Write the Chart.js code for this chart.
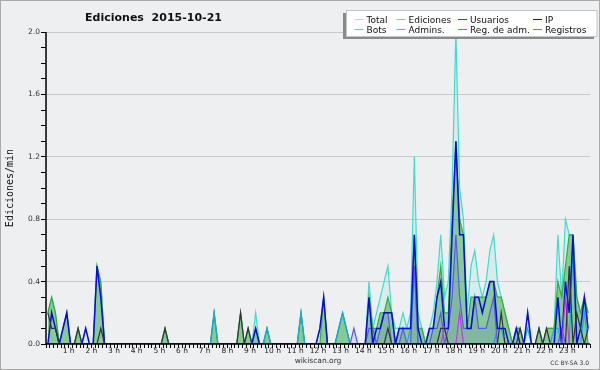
<!DOCTYPE html>
<html>
<head>
<meta charset="utf-8">
<script src="https://cdn.jsdelivr.net/npm/chart.js@4.4.1/dist/chart.umd.min.js"></script>
<style>
html,body{margin:0;padding:0;background:#eeeff1;}
canvas{display:block;}
</style>
</head>
<body>
<canvas id="c" width="600" height="370"></canvas>
<script>
// ---------- data (10-minute bins, edits per minute) ----------
const chartTitle = 'Ediciones  2015-10-21';
const yAxisTitle = 'Ediciones/min';
const xAxisTitle = 'wikiscan.org';
const licenseText = 'CC BY-SA 3.0';
const binMinutes = 10;
const hourTickLabels = ['1 h','2 h','3 h','4 h','5 h','6 h','7 h','8 h','9 h','10 h','11 h','12 h',
  '13 h','14 h','15 h','16 h','17 h','18 h','19 h','20 h','21 h','22 h','23 h'];
const yTickLabels = ['0.0','0.4','0.8','1.2','1.6','2.0'];
const seriesNames = ['Total','Ediciones','Usuarios','IP','Bots','Admins.','Reg. de adm.','Registros'];

const total = [
  0.2,0.3,0.2,0,0.1,0.2,0,0,0.1,0,0.1,0,
  0,0.5,0.4,0,0,0,0,0,0,0,0,0,
  0,0,0,0,0,0,0,0.1,0,0,0,0,
  0,0,0,0,0,0,0,0,0.2,0,0,0,
  0,0,0,0.2,0,0.1,0,0.2,0,0,0.1,0,
  0,0,0,0,0,0,0,0.2,0,0,0,0,
  0.1,0.3,0,0,0,0.1,0.2,0.1,0,0,0,0,
  0,0.4,0.1,0.2,0.3,0.4,0.5,0.2,0.1,0.1,0.2,0.1,
  0.2,1.2,0.2,0.1,0,0.1,0.2,0.4,0.7,0.3,0.4,1.0,
  2.0,1.0,0.8,0.2,0.5,0.6,0.4,0.3,0.4,0.6,0.7,0.4,
  0.3,0.2,0.1,0,0.1,0.1,0,0.2,0,0,0.1,0,
  0.1,0.1,0.1,0.7,0.3,0.8,0.7,0.7,0.3,0.2,0.3,0.2
];
const ediciones = [
  0.2,0.3,0.2,0,0.1,0.2,0,0,0.1,0,0,0,
  0,0.5,0.4,0,0,0,0,0,0,0,0,0,
  0,0,0,0,0,0,0,0.1,0,0,0,0,
  0,0,0,0,0,0,0,0,0.2,0,0,0,
  0,0,0,0.2,0,0.1,0,0.1,0,0,0.1,0,
  0,0,0,0,0,0,0,0.2,0,0,0,0,
  0,0.3,0,0,0,0.1,0.2,0.1,0,0,0,0,
  0,0.3,0.1,0.1,0.2,0.2,0.3,0.2,0,0.1,0.1,0.1,
  0.1,0.7,0.1,0.1,0,0.1,0.1,0.3,0.5,0.2,0.2,0.8,
  1.3,0.8,0.7,0.1,0.3,0.3,0.3,0.3,0.3,0.4,0.4,0.3,
  0.3,0.2,0.1,0,0.1,0.1,0,0,0,0,0.1,0,
  0.1,0.1,0.1,0.4,0.3,0.5,0.7,0.7,0.3,0.2,0.3,0.2
];
const usuarios = [
  0,0.2,0.1,0,0.1,0.2,0,0,0,0,0.1,0,
  0,0.5,0.3,0,0,0,0,0,0,0,0,0,
  0,0,0,0,0,0,0,0,0,0,0,0,
  0,0,0,0,0,0,0,0,0,0,0,0,
  0,0,0,0,0,0,0,0.1,0,0,0,0,
  0,0,0,0,0,0,0,0,0,0,0,0,
  0.1,0.3,0,0,0,0,0,0,0,0,0,0,
  0,0.3,0,0.1,0.1,0.2,0.2,0.2,0,0.1,0.1,0.1,
  0.1,0.7,0.1,0,0,0.1,0.1,0.3,0.4,0.1,0.1,0.7,
  1.3,0.7,0.7,0.1,0.1,0.3,0.3,0.2,0.3,0.4,0.4,0.1,
  0.1,0.1,0,0,0.1,0,0,0.2,0,0,0,0,
  0,0,0,0.3,0,0.4,0.2,0.7,0,0.1,0.3,0.1
];
const ip = [
  0.2,0.1,0.1,0,0,0,0,0,0.1,0,0,0,
  0,0,0.1,0,0,0,0,0,0,0,0,0,
  0,0,0,0,0,0,0,0.1,0,0,0,0,
  0,0,0,0,0,0,0,0,0,0,0,0,
  0,0,0,0.2,0,0.1,0,0,0,0,0,0,
  0,0,0,0,0,0,0,0,0,0,0,0,
  0,0,0,0,0,0,0,0,0,0,0,0,
  0,0,0,0,0,0,0.1,0,0,0,0,0,
  0,0,0,0,0,0,0,0,0.1,0.1,0,0,
  0,0,0,0,0,0,0,0,0,0,0,0,
  0.2,0,0,0,0,0.1,0,0,0,0,0.1,0,
  0.1,0,0,0,0,0,0.5,0,0.2,0.1,0,0.1
];
const bots = [
  0,0,0,0,0,0,0,0,0,0,0,0, 0,0,0,0,0,0,0,0,0,0,0,0,
  0,0,0,0,0,0,0,0,0,0,0,0, 0,0,0,0,0,0,0,0,0,0,0,0,
  0,0,0,0,0,0,0,0,0,0,0,0, 0,0,0,0,0,0,0,0,0,0,0,0,
  0,0,0,0,0,0,0,0,0,0,0,0, 0,0,0,0,0,0,0,0,0,0,0,0,
  0,0,0,0,0,0,0,0,0,0,0,0, 0,0,0,0,0,0,0,0,0,0,0,0,
  0,0,0,0,0,0,0,0,0,0,0,0, 0,0,0,0,0,0,0,0,0,0,0,0
];
const admins = [
  0,0,0,0,0,0,0,0,0,0,0,0,
  0,0,0,0,0,0,0,0,0,0,0,0,
  0,0,0,0,0,0,0,0,0,0,0,0,
  0,0,0,0,0,0,0,0,0.2,0,0,0,
  0,0,0,0,0,0,0,0,0,0,0.1,0,
  0,0,0,0,0,0,0,0.2,0,0,0,0,
  0,0,0,0,0,0.1,0.2,0.1,0,0,0,0,
  0,0,0,0,0,0,0,0,0,0,0,0,
  0.1,0.5,0,0,0,0,0,0,0,0,0,0,
  0,0,0,0,0,0,0,0,0,0,0,0.1,
  0.1,0,0,0,0,0,0,0.1,0,0,0,0,
  0,0,0.1,0.1,0,0,0,0.6,0,0,0.2,0
];
const regAdm = [
  0,0,0,0,0,0,0,0,0,0,0,0, 0,0,0,0,0,0,0,0,0,0,0,0,
  0,0,0,0,0,0,0,0,0,0,0,0, 0,0,0,0,0,0,0,0,0,0,0,0,
  0,0,0,0,0,0,0,0,0,0,0,0, 0,0,0,0,0,0,0,0,0,0,0,0,
  0,0,0,0,0,0,0,0,0,0,0,0, 0,0,0,0,0,0,0,0,0,0,0,0,
  0,0,0,0,0,0,0,0,0,0.1,0,0, 0,0.2,0,0,0,0,0,0,0,0,0,0,
  0,0,0,0,0,0,0,0,0,0,0,0, 0,0,0,0,0,0.3,0,0,0,0,0,0
];
const registros = [
  0,0,0,0,0,0,0,0,0,0,0,0,
  0,0,0,0,0,0,0,0,0,0,0,0,
  0,0,0,0,0,0,0,0,0,0,0,0,
  0,0,0,0,0,0,0,0,0,0,0,0,
  0,0,0,0,0,0,0,0,0,0,0,0,
  0,0,0,0,0,0,0,0,0,0,0,0,
  0,0,0,0,0,0,0,0,0,0.1,0,0,
  0,0.1,0.1,0,0.1,0.2,0.2,0,0,0,0.1,0,
  0,0.5,0,0,0,0,0.1,0.1,0.2,0,0.1,0.3,
  0.7,0.3,0.1,0.1,0.1,0.3,0.1,0.1,0.1,0.2,0.3,0,
  0,0,0,0,0,0,0,0,0,0,0,0,
  0,0,0,0,0.1,0,0,0,0,0,0,0
];

// bin centres in minutes since 00:00 (x categories)
const binCenters = total.map((_, i) => i * binMinutes + binMinutes / 2);

// ---------- styles ----------
const FONT = "'DejaVu Sans', Verdana, sans-serif";
const lineColors = ['#3fdcd0','#35ad35','#0a0ae0','#333333','#ff9a30','#14a8e4','#cc33e6','#5858ee'];
const legendColors = ['#9fe6dd','#86cf86','#3a3ae6','#222222','#f0a040','#38c4e4','#d040e0','#7070f0'];

function ds(name, data, idx, extra) {
  return Object.assign({
    label: name, data: data, borderColor: lineColors[idx], borderWidth: 1.2,
    pointRadius: 0, tension: 0, fill: false
  }, extra || {});
}

const datasets = [
  ds(seriesNames[0], total, 0, {fill: 'origin', backgroundColor: 'rgba(64,224,208,0.13)', order: 10}),
  ds(seriesNames[1], ediciones, 1, {fill: 'origin', backgroundColor: 'rgba(40,160,40,0.45)', order: 9}),
  ds(seriesNames[4], bots, 4, {order: 8}),
  ds(seriesNames[5], admins, 5, {order: 6}),
  ds(seriesNames[7], registros, 7, {fill: 'origin', backgroundColor: 'rgba(70,70,235,0.13)', order: 5}),
  ds(seriesNames[2], usuarios, 2, {borderWidth: 1.5, order: 4}),
  ds(seriesNames[6], regAdm, 6, {order: 3}),
  ds(seriesNames[3], ip, 3, {order: 2})
];

const decor = {
  id: 'decor',
  beforeDraw(chart) {
    const c = chart.ctx;
    c.save();
    c.fillStyle = '#eeeff1';
    c.fillRect(0, 0, chart.width, chart.height);
    c.restore();
  },
  afterDatasetsDraw(chart) {
    const c = chart.ctx, a = chart.chartArea;
    c.save();
    c.strokeStyle = '#000';
    c.lineWidth = 1.5;
    c.beginPath();
    c.moveTo(a.left, a.top);
    c.lineTo(a.left, a.bottom);
    c.lineTo(a.right, a.bottom);
    c.stroke();
    c.restore();
  },
  afterDraw(chart) {
    const c = chart.ctx, a = chart.chartArea;
    c.save();
    // outer frame
    c.strokeStyle = '#a9a9a9';
    c.lineWidth = 2;
    c.strokeRect(0, 0, chart.width, chart.height);
    // title
    c.fillStyle = '#111';
    c.font = "bold 11px " + FONT;
    c.textAlign = 'center';
    c.textBaseline = 'alphabetic';
    c.fillText(chartTitle, 153.5, 21);
    // y axis title
    c.save();
    c.translate(10.5, (a.top + a.bottom) / 2);
    c.rotate(-Math.PI / 2);
    c.font = "10px 'DejaVu Sans Mono', monospace";
    c.textBaseline = 'middle';
    c.fillStyle = '#111';
    c.fillText(yAxisTitle, 0, 0);
    c.restore();
    // x axis title
    c.font = "7.5px " + FONT;
    c.fillStyle = '#333';
    c.textAlign = 'center';
    c.fillText(xAxisTitle, (a.left + a.right) / 2, 363);
    // licence
    c.font = "6px " + FONT;
    c.textAlign = 'right';
    c.fillText(licenseText, 589, 365);
    // legend box
    c.fillStyle = '#8a8a8a';
    c.fillRect(343, 13, 251, 26);
    c.fillStyle = '#ffffff';
    c.fillRect(346, 10, 251, 26.5);
    c.strokeStyle = '#c4c4c4';
    c.lineWidth = 1;
    c.strokeRect(346.5, 10.5, 250.5, 26);
    const cols = [366.5, 408.5, 470, 545];
    const rows = [23, 33];
    const order = [0, 1, 2, 3, 4, 5, 6, 7];
    c.font = "9px " + FONT;
    c.textAlign = 'left';
    c.textBaseline = 'alphabetic';
    order.forEach((s, k) => {
      const col = k % 4, row = Math.floor(k / 4);
      const tx = cols[col], ty = rows[row];
      c.strokeStyle = legendColors[s];
      c.lineWidth = 1;
      c.beginPath();
      c.moveTo(tx - 12, ty - 3.5);
      c.lineTo(tx - 3, ty - 3.5);
      c.stroke();
      c.fillStyle = '#111';
      c.fillText(seriesNames[s], tx, ty);
    });
    c.restore();
  }
};

new Chart(document.getElementById('c'), {
  type: 'line',
  data: { labels: binCenters, datasets: datasets },
  options: {
    responsive: false,
    animation: false,
    devicePixelRatio: 1,
    events: [],
    layout: { padding: { left: 0, top: 32, right: 10, bottom: 0 } },
    plugins: { legend: { display: false }, tooltip: { enabled: false }, title: { display: false } },
    scales: {
      x: {
        type: 'linear',
        min: 0,
        max: 1440,
        border: { display: false },
        grid: { drawOnChartArea: false, drawTicks: true, tickLength: 4, tickColor: '#000', color: '#000', lineWidth: 1 },
        ticks: {
          stepSize: binMinutes,
          autoSkip: false,
          maxRotation: 0,
          minRotation: 0,
          padding: -1,
          color: '#222',
          font: { family: FONT, size: 7.5 },
          callback: (v) => (v % 60 === 0 && v > 0 && v < 1440) ? hourTickLabels[v / 60 - 1] : ''
        },
        afterFit: (s) => { s.height = 26; }
      },
      y: {
        min: 0,
        max: 2.0,
        border: { display: false },
        grid: {
          drawTicks: true,
          tickLength: 5,
          tickColor: '#000',
          lineWidth: 1,
          color: (ctx) => {
            const k = Math.round(ctx.tick.value * 10);
            return (k > 0 && k % 4 === 0) ? '#c9c9c9' : 'rgba(0,0,0,0)';
          }
        },
        ticks: {
          stepSize: 0.1,
          autoSkip: false,
          padding: 1,
          color: '#333',
          font: { family: FONT, size: 7.5 },
          callback: (v) => {
            const k = Math.round(v * 10);
            return k % 4 === 0 ? yTickLabels[k / 4] : '';
          }
        },
        afterFit: (s) => { s.width = 46; }
      }
    }
  },
  plugins: [decor]
});
</script>
</body>
</html>
